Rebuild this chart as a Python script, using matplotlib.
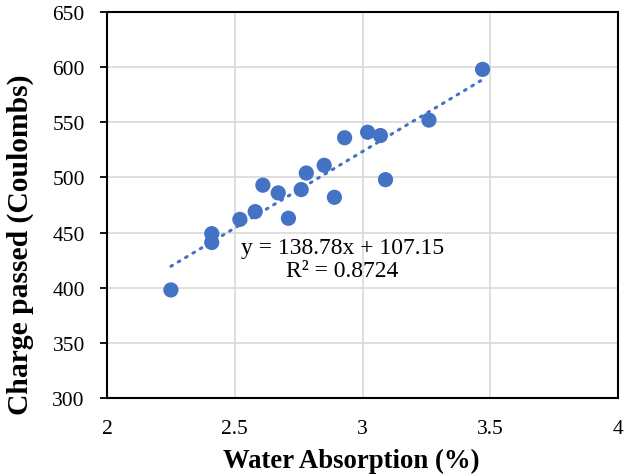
import numpy as np
import matplotlib
matplotlib.use("Agg")
import matplotlib.pyplot as plt

water_absorption = [3.47, 3.26, 2.93, 3.02, 3.07, 2.85, 2.78, 3.09, 2.61, 2.67,
                    2.76, 2.89, 2.58, 2.52, 2.71, 2.41, 2.41, 2.25]
charge_passed = [598, 552, 536, 541, 538, 511, 504, 498, 493, 486,
                 489, 482, 469, 462, 463, 449, 441, 398]
slope, intercept = 138.78, 107.15
r_squared = 0.8724
x_ticks = [2, 2.5, 3, 3.5, 4]
y_ticks = [300, 350, 400, 450, 500, 550, 600, 650]

plt.rcParams['font.family'] = ['Liberation Serif', 'DejaVu Serif']
blue = '#4472C4'

fig = plt.figure(figsize=(6.31, 4.77), dpi=100)
ax = fig.add_axes([0.1696, 0.1635, 0.9794 - 0.1696, 0.9727 - 0.1635])

ax.grid(True, color='#D9D9D9', linewidth=1.2, zorder=0)
ax.set_axisbelow(True)

xs = np.array([min(water_absorption), max(water_absorption)])
ax.plot(xs, slope * xs + intercept, color=blue, linewidth=2.2,
        linestyle=(0, (0.6, 2.2)), dash_capstyle='round', zorder=2)
ax.scatter(water_absorption, charge_passed, s=120, color=blue, edgecolors='none', zorder=3)

ax.set_xlim(2, 4)
ax.set_ylim(300, 650)
ax.set_xticks(x_ticks)
ax.set_xticklabels(['2', '2.5', '3', '3.5', '4'])
ax.set_yticks(y_ticks)
ax.tick_params(axis='x', length=0, pad=15, labelsize=15.5)
ax.tick_params(axis='y', length=5, width=1.3, pad=11, labelsize=15.5, direction='out')

for side in ['left', 'bottom', 'right', 'top']:
    ax.spines[side].set_linewidth(1.5)
    ax.spines[side].set_color('black')

ax.set_xlabel('Water Absorption (%)', fontsize=19.3, fontweight='bold')
ax.set_ylabel('Charge passed (Coulombs)', fontsize=21.3, fontweight='bold')
ax.xaxis.set_label_coords(0.477, -0.128)
ax.yaxis.set_label_coords(-0.142, 0.40)

ax.text(2.92, 426, f'y = {slope}x + {intercept}\nR² = {r_squared}', fontsize=17,
        ha='center', va='center', linespacing=1.15, zorder=4)

fig.savefig('out.png', dpi=100)
